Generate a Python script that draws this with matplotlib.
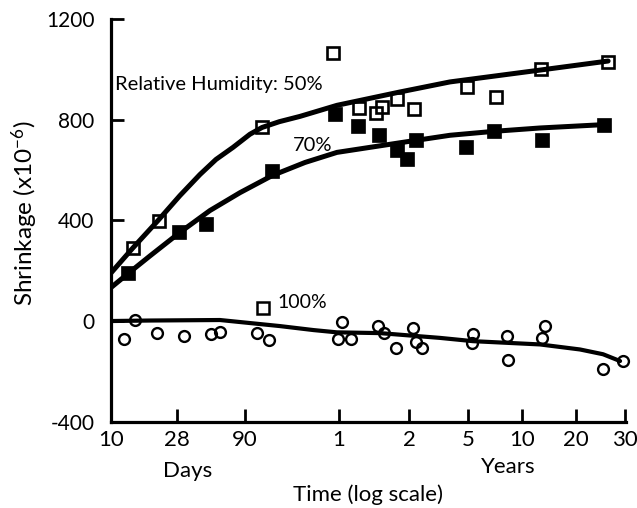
import matplotlib
import numpy as np

matplotlib.use("Agg")
import matplotlib.pyplot as plt


# ages in days, shrinkage in 1e-6
rh50_days = [14, 21, 116, 333, 444, 526, 558, 647, 789, 1795, 2620, 4670, 9530]
rh50_shrink = [292, 399, 769, 1063, 848, 827, 851, 884, 844, 928, 890, 1003, 1030]

rh70_days = [13, 29, 46, 135, 344, 440, 542, 647, 715, 813, 1770, 2550, 4720, 9230]
rh70_shrink = [191, 352, 386, 598, 824, 773, 738, 678, 645, 718, 691, 755, 720, 780]

rh100_days = [12.2, 14.5, 20.6, 31.6, 50, 59, 108, 129, 361, 375, 411, 538, 571,
              641, 780, 813, 897, 1915, 1950, 3000, 3060, 4710, 4910, 9160, 10770]
rh100_shrink = [-71, 3, -49, -60, -53, -44, -47, -77, -70, -4, -70, -20, -49,
                -106, -29, -84, -106, -86, -53, -60, -153, -66, -20, -192, -159]

marker100_days = [118]
marker100_shrink = [53]

fit50_days = [10, 14.1, 20.8, 29.4, 41.5, 54.7, 73.3, 96.8, 116, 150, 204, 354, 667,
              1380, 4600, 9530]
fit50_shrink = [191, 291, 399, 498, 582, 642, 690, 742, 769, 792, 813, 857, 910,
                950, 997, 1033]

fit70_days = [10, 13.2, 18.4, 29.4, 49.3, 82.6, 135, 220, 354, 687, 1380, 2582, 4600, 9440]
fit70_shrink = [133, 191, 259, 352, 439, 510, 578, 630, 670, 710, 738, 754, 767, 781]

fit100_days = [10, 18.4, 58.6, 96.8, 151, 250, 354, 547, 1181, 1945, 4600, 7550, 9140, 10520]
fit100_shrink = [0, 2, 4, -8, -20, -36, -45, -48, -67, -80, -93, -113, -132, -159]

tick_days = [10, 28, 90, 365, 730, 1826, 3652, 7305, 10957]
tick_labels = ["10", "28", "90", "1", "2", "5", "10", "20", "30"]
y_ticks = [-400, 0, 400, 800, 1200]
y_labels = ["-400", "0", "400", "800", "1200"]

# the original "log" axis is hand drawn: tick spacing is not a true log scale,
# so map log(days) piecewise onto where the ticks sit in the drawing
_drawn_pos = [111, 177, 245, 339, 409, 468, 522, 576, 625]
_log_anchor = np.log10(tick_days)
_log_anchor = np.concatenate([[0.0], _log_anchor, [5.0]])
_pos_anchor = np.concatenate([[111 - 1 / 0.006773], _drawn_pos, [625 + 0.96 / 0.003592]])


def _forward(x):
    x = np.clip(np.asarray(x, dtype=float), 1e-3, None)
    return np.interp(np.log10(x), _log_anchor, _pos_anchor)


def _inverse(p):
    return 10 ** np.interp(np.asarray(p, dtype=float), _pos_anchor, _log_anchor)


plt.rcParams["font.family"] = ["Lato", "DejaVu Sans"]
plt.rcParams["mathtext.default"] = "regular"
plt.rcParams["axes.unicode_minus"] = False

W, H = 637, 508
fig = plt.figure(figsize=(W / 100, H / 100), dpi=100)
ax = fig.add_axes([111 / W, 1 - 421.7 / H, (626 - 111) / W, (421.7 - 19) / H])
ax.set_xscale("function", functions=(_forward, _inverse))
ax.set_xlim(10, 11050)
ax.set_ylim(-400, 1200)

for side in ("top", "right"):
    ax.spines[side].set_visible(False)
for side in ("left", "bottom"):
    ax.spines[side].set_linewidth(2.3)
    ax.spines[side].set_capstyle("projecting")

ax.set_xticks(tick_days, tick_labels)
ax.xaxis.set_minor_locator(matplotlib.ticker.NullLocator())
ax.set_yticks(y_ticks, y_labels)
ax.tick_params(axis="both", direction="in", length=9.5, width=2.0)
ax.tick_params(axis="x", labelsize=16, pad=6)
ax.tick_params(axis="y", labelsize=15, pad=12)

line_kw = dict(color="black", solid_capstyle="round", solid_joinstyle="round")
ax.plot(fit50_days, fit50_shrink, lw=3.6, **line_kw)
ax.plot(fit70_days, fit70_shrink, lw=3.6, **line_kw)
ax.plot(fit100_days, fit100_shrink, lw=3.0, **line_kw)

ax.plot(rh50_days, rh50_shrink, ls="none", marker="s", ms=8.6, mfc="none",
        mec="black", mew=1.9, clip_on=False, zorder=4)
ax.plot(marker100_days, marker100_shrink, ls="none", marker="s", ms=8.0, mfc="white",
        mec="black", mew=1.8, zorder=4)
ax.plot(rh70_days, rh70_shrink, ls="none", marker="s", ms=10.5, mfc="black",
        mec="black", mew=0.5, clip_on=False, zorder=4)
ax.plot(rh100_days, rh100_shrink, ls="none", marker="o", ms=7.8, mfc="none",
        mec="black", mew=1.7, clip_on=False, zorder=4)

ax.text(10.6, 941, "Relative Humidity: 50%", fontsize=14.5, ha="left", va="center")
ax.text(248, 698, "70%", fontsize=14.5, ha="center", va="center")
ax.text(147, 72, "100%", fontsize=14, ha="left", va="center")

fig.text(25 / W, 1 - 213 / H, "Shrinkage (x10$^{-6}$)", fontsize=17.5,
         rotation=90, ha="center", va="center")
fig.text(188 / W, 1 - 471 / H, "Days", fontsize=16, ha="center", va="center")
fig.text(508 / W, 1 - 467 / H, "Years", fontsize=16, ha="center", va="center")
fig.text(368 / W, 1 - 495 / H, "Time (log scale)", fontsize=16, ha="center", va="center")

fig.savefig("out.png", dpi=100)
plt.close(fig)
